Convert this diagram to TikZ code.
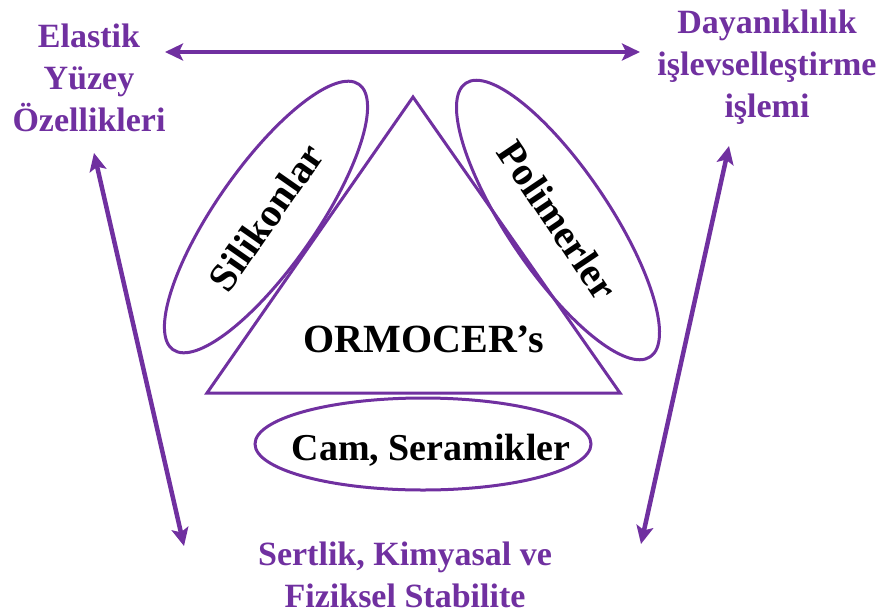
\documentclass[tikz,border=0pt]{standalone}
\usepackage{fontspec}
\setmainfont{Liberation Serif}
\usetikzlibrary{arrows.meta,shapes.geometric}
\definecolor{violetline}{RGB}{112,48,160}
\tikzset{
  outline/.style={draw=violetline, line width=3pt},
  ring/.style={outline, ellipse, inner sep=0pt, text=black,
    font=\fontsize{40}{46}\selectfont\bfseries},
  tag/.style={text=violetline, font=\fontsize{34}{42}\selectfont\bfseries, align=center, inner sep=0pt},
  heavy/.style={text=black, font=\fontsize{40}{46}\selectfont\bfseries, inner sep=0pt},
  link/.style={draw=violetline, line width=4.5pt,
    {Stealth[length=18pt,width=17pt,inset=4pt]}-{Stealth[length=18pt,width=17pt,inset=4pt]}}
}
\begin{document}
\begin{tikzpicture}[x=1pt,y=-1pt]
  \useasboundingbox (0,0) rectangle (884,614);

  % central triangle
  \coordinate (apex) at (413,97);
  \coordinate (bl) at (207,393);
  \coordinate (br) at (620,393);
  \draw[outline, line join=miter] (apex) -- (bl) -- (br) -- cycle;

  % three surrounding ellipses
  \node[ring, minimum width=324pt, minimum height=100pt, rotate=55] (sil) at (266,217) {Silikonlar};
  \node[ring, minimum width=330pt, minimum height=102pt, rotate=-56] (pol) at (558,220) {Polimerler};
  \node[ring, minimum width=336pt, minimum height=92pt] (cam) at (423,444) {};
  \node[heavy, font=\fontsize{38}{44}\selectfont\bfseries, anchor=base] (camt) at (431,460) {Cam, Seramikler};

  % label of the triangle
  \node[heavy, anchor=base] (orm) at (424,352) {ORMOCER’s};

  % purple property labels
  \node[tag, anchor=north] (elast) at (89,24) {Elastik\\Yüzey\\Özellikleri};
  \node[tag, anchor=north] (dayan) at (767,10) {Dayanıklılık\\işlevselleştirme\\işlemi};
  \node[tag, anchor=north] (sert) at (405,542) {Sertlik, Kimyasal ve\\Fiziksel Stabilite};

  % arrow end points
  \coordinate (t1) at (165,52);
  \coordinate (t2) at (640,52);
  \coordinate (l1) at (94,153);
  \coordinate (l2) at (184,546);
  \coordinate (r1) at (729,146);
  \coordinate (r2) at (641,544);

  \draw[link] (t1) -- (t2);
  \draw[link] (l1) -- (l2);
  \draw[link] (r1) -- (r2);
\end{tikzpicture}
\end{document}
